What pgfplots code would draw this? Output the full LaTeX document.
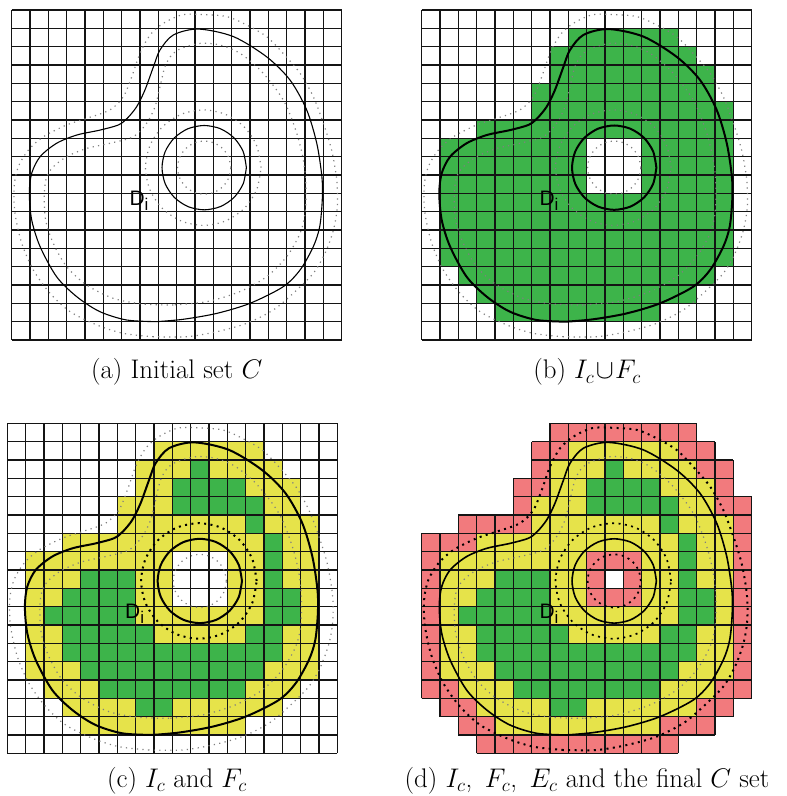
\RequirePackage{fix-cm}
\documentclass[border=0pt]{standalone}
\usepackage{fontspec}
\usepackage{pgfplots}
\usepackage{pgfplotstable}
\pgfplotsset{compat=1.18}
\newfontfamily\sansD{Liberation Sans}

\definecolor{cgreen}{RGB}{61,180,74}
\definecolor{cyellow}{RGB}{230,227,74}
\definecolor{cred}{RGB}{242,122,125}

% ---------- curves (grid units, 18x18 cells) ----------
\pgfplotstableread{
x y
7.9 1.0
6.27 1.09
4.8 1.55
3.55 2.36
2.45 3.45
1.55 5.09
1.09 6.55
0.96 8.0
1.09 9.09
1.55 10.0
2.45 10.73
3.55 11.18
4.82 11.45
5.82 11.73
6.3 12.09
6.82 12.73
7.27 13.64
7.73 14.9
8.09 15.82
8.82 16.64
10.18 16.96
12.09 16.55
13.9 15.45
15.18 14.18
16.09 12.55
16.64 10.73
16.92 8.9
16.94 7.64
16.8 6.18
16.45 5.09
15.73 3.82
14.8 2.9
13.0 2.0
11.18 1.45
9.36 1.13
7.9 1.0
}\solidouter

\pgfplotstableread{
x y
7.73 0.18
6.09 0.36
4.64 0.82
3.18 1.55
2.09 2.55
1.18 3.82
0.55 5.27
0.18 6.91
0.13 8.36
0.36 9.45
0.91 10.36
1.73 11.09
3.0 11.73
4.09 12.09
5.36 12.55
6.09 13.27
6.55 14.36
7.0 15.64
7.55 16.64
8.27 17.27
9.27 17.73
10.27 17.76
11.73 17.64
12.82 17.18
13.9 16.55
14.8 15.64
15.73 14.55
16.45 13.27
17.0 11.82
17.45 10.36
17.73 8.73
17.76 7.27
17.55 6.0
17.09 4.73
16.45 3.64
15.36 2.55
14.27 1.64
12.82 0.91
11.18 0.45
9.55 0.18
7.73 0.18
}\dotouter

\pgfplotstableread{
x y
8.82 1.91
7.18 1.96
5.55 2.27
4.09 3.0
3.0 4.0
2.27 5.27
1.85 6.55
1.78 8.0
1.91 8.91
2.27 9.45
3.0 10.0
4.09 10.45
5.36 10.73
6.64 11.09
7.36 11.82
7.82 12.73
8.09 13.82
8.36 14.91
8.73 15.55
9.27 15.91
10.27 16.18
11.36 16.09
12.45 15.64
13.55 14.73
14.45 13.64
15.0 12.73
15.55 11.27
15.91 9.82
16.05 8.36
16.0 6.91
15.73 5.82
15.0 4.55
13.9 3.45
12.45 2.64
10.64 2.09
8.82 1.91
}\dotinner

\pgfplotstableread{
x y
12.8 9.4
12.625 10.281
12.126 11.026
11.381 11.525
10.5 11.7
9.619 11.525
8.874 11.026
8.375 10.281
8.2 9.4
8.375 8.519
8.874 7.774
9.619 7.275
10.5 7.1
11.381 7.275
12.126 7.774
12.625 8.519
12.8 9.4
}\solidcircle

\pgfplotstableread{
x y
13.6 9.4
13.36 10.605
12.677 11.627
11.655 12.31
10.45 12.55
9.245 12.31
8.223 11.627
7.54 10.605
7.3 9.4
7.54 8.195
8.223 7.173
9.245 6.49
10.45 6.25
11.655 6.49
12.677 7.173
13.36 8.195
13.6 9.4
}\ringcircle

\pgfplotstableread{
x y
11.95 9.4
11.84 9.955
11.525 10.425
11.055 10.74
10.5 10.85
9.945 10.74
9.475 10.425
9.16 9.955
9.05 9.4
9.16 8.845
9.475 8.375
9.945 8.06
10.5 7.95
11.055 8.06
11.525 8.375
11.84 8.845
11.95 9.4
}\smallcircle

% ---------- cell runs ----------
\pgfplotstableread{
x y
8 16.5
14 16.5
nan nan
7 15.5
15 15.5
nan nan
7 14.5
16 14.5
nan nan
6 13.5
16 13.5
nan nan
6 12.5
17 12.5
nan nan
3 11.5
17 11.5
nan nan
1 10.5
9 10.5
nan nan
12 10.5
17 10.5
nan nan
1 9.5
9 9.5
nan nan
12 9.5
17 9.5
nan nan
1 8.5
9 8.5
nan nan
12 8.5
17 8.5
nan nan
1 7.5
17 7.5
nan nan
1 6.5
17 6.5
nan nan
1 5.5
17 5.5
nan nan
1 4.5
17 4.5
nan nan
2 3.5
16 3.5
nan nan
3 2.5
15 2.5
nan nan
4 1.5
13 1.5
}\runsS

\pgfplotstableread{
x y
10 15.5
11 15.5
nan nan
9 14.5
13 14.5
nan nan
9 13.5
14 13.5
nan nan
13 12.5
14 12.5
nan nan
14 11.5
15 11.5
nan nan
14 10.5
15 10.5
nan nan
4 9.5
7 9.5
nan nan
14 9.5
15 9.5
nan nan
3 8.5
7 8.5
nan nan
14 8.5
16 8.5
nan nan
2 7.5
7 7.5
nan nan
14 7.5
16 7.5
nan nan
3 6.5
8 6.5
nan nan
13 6.5
15 6.5
nan nan
3 5.5
15 5.5
nan nan
4 4.5
14 4.5
nan nan
5 3.5
13 3.5
nan nan
7 2.5
9 2.5
}\runsI

\pgfplotstableread{
x y
0.5 3
0.5 12
nan nan
17.5 3
17.5 14
nan nan
7 17.5
15 17.5
nan nan
6 16.5
8 16.5
nan nan
14 16.5
16 16.5
nan nan
6 15.5
7 15.5
nan nan
15 15.5
17 15.5
nan nan
5 14.5
7 14.5
nan nan
16 14.5
17 14.5
nan nan
5 13.5
6 13.5
nan nan
16 13.5
17 13.5
nan nan
2 12.5
6 12.5
nan nan
1 11.5
3 11.5
nan nan
9 10.5
12 10.5
nan nan
9 9.5
10 9.5
nan nan
11 9.5
12 9.5
nan nan
9 8.5
12 8.5
nan nan
1 3.5
2 3.5
nan nan
16 3.5
17 3.5
nan nan
1 2.5
3 2.5
nan nan
15 2.5
17 2.5
nan nan
2 1.5
4 1.5
nan nan
13 1.5
16 1.5
nan nan
3 0.5
14 0.5
}\runsE

% grid of panel (d): horizontal then vertical segments
\pgfplotstableread{
x y
7 18
15 18
nan nan
6 17
16 17
nan nan
6 16
17 16
nan nan
5 15
17 15
nan nan
5 14
18 14
nan nan
2 13
18 13
nan nan
0 12
18 12
nan nan
0 11
18 11
nan nan
0 10
18 10
nan nan
0 9
18 9
nan nan
0 8
18 8
nan nan
0 7
18 7
nan nan
0 6
18 6
nan nan
0 5
18 5
nan nan
0 4
18 4
nan nan
0 3
18 3
nan nan
1 2
17 2
nan nan
2 1
16 1
nan nan
3 0
14 0
nan nan
0 3
0 12
nan nan
1 2
1 12
nan nan
2 1
2 13
nan nan
3 0
3 13
nan nan
4 0
4 13
nan nan
5 0
5 15
nan nan
6 0
6 17
nan nan
7 0
7 18
nan nan
8 0
8 18
nan nan
9 0
9 18
nan nan
10 0
10 18
nan nan
11 0
11 18
nan nan
12 0
12 18
nan nan
13 0
13 18
nan nan
14 0
14 18
nan nan
15 1
15 18
nan nan
16 1
16 17
nan nan
17 2
17 16
nan nan
18 3
18 14
}\gridD

\pgfplotstableread{
x y
18 0
18 1
18 2
18 3
18 4
18 5
18 6
18 7
18 8
18 9
18 10
18 11
18 12
18 13
18 14
18 15
18 16
18 17
18 18
}\gridH

\pgfplotstableread{
x y
0 18
1 18
2 18
3 18
4 18
5 18
6 18
7 18
8 18
9 18
10 18
11 18
12 18
13 18
14 18
15 18
16 18
17 18
18 18
}\gridV

\pgfplotsset{
  panel/.style={hide axis, clip=false, scale only axis, width=330bp, height=330bp,
    xmin=0, xmax=18, ymin=0, ymax=18, anchor=south west, unbounded coords=jump},
  gridline/.style={black!92, line width=1.15bp},
  run/.style={line width=18.4bp, line cap=butt},
  thinsolid/.style={black, line width=1.1bp, smooth},
  thicksolid/.style={black, line width=2bp, smooth},
  graydot/.style={black!50, line width=1.2bp, dash pattern=on 1.2bp off 4.3bp, smooth},
  blackdot/.style={black, line width=2bp, dash pattern=on 2bp off 4.4bp, smooth},
}
\tikzset{capt/.style={anchor=base, inner sep=0pt, font=\fontsize{27}{32}\selectfont}}
\newcommand\Dlabel{\node[anchor=base west, inner sep=0pt, font=\sansD\fontsize{21}{21}\selectfont] at (axis cs:6.42,7.36) {D\raisebox{-5bp}{\fontsize{17}{17}\selectfont i}};}
\newcommand\fullgrid{%
  \addplot[gridline, xcomb] table {\gridH};
  \addplot[gridline, ycomb] table {\gridV};}

\begin{document}
\begin{tikzpicture}
\useasboundingbox (0,0) rectangle (787bp,796bp);

% (a)
\begin{axis}[panel, at={(11.7bp,456bp)}]
\fullgrid
\addplot[graydot] table {\dotouter};
\addplot[graydot] table {\dotinner};
\addplot[graydot] table {\ringcircle};
\addplot[graydot] table {\smallcircle};
\addplot[thinsolid] table {\solidouter};
\addplot[thinsolid] table {\solidcircle};
\Dlabel
\end{axis}

% (b)
\begin{axis}[panel, at={(421.7bp,456bp)}]
\addplot[run, cgreen] table {\runsS};
\fullgrid
\addplot[graydot] table {\dotouter};
\addplot[graydot] table {\dotinner};
\addplot[graydot] table {\ringcircle};
\addplot[graydot] table {\smallcircle};
\addplot[thicksolid] table {\solidouter};
\addplot[thicksolid] table {\solidcircle};
\Dlabel
\end{axis}

% (c)
\begin{axis}[panel, at={(7.3bp,42.7bp)}]
\addplot[run, cyellow] table {\runsS};
\addplot[run, cgreen] table {\runsI};
\fullgrid
\addplot[graydot] table {\dotouter};
\addplot[graydot] table {\dotinner};
\addplot[blackdot] table {\ringcircle};
\addplot[graydot] table {\smallcircle};
\addplot[thicksolid] table {\solidouter};
\addplot[thicksolid] table {\solidcircle};
\Dlabel
\end{axis}

% (d)
\begin{axis}[panel, at={(421.7bp,42.7bp)}]
\addplot[run, cyellow] table {\runsS};
\addplot[run, cgreen] table {\runsI};
\addplot[run, cred] table {\runsE};
\addplot[gridline] table {\gridD};
\addplot[blackdot] table {\dotouter};
\addplot[graydot] table {\dotinner};
\addplot[blackdot, line width=1.7bp] table {\ringcircle};
\addplot[blackdot, line width=1.7bp] table {\smallcircle};
\addplot[thicksolid, line width=1.6bp] table {\solidouter};
\addplot[thicksolid, line width=1.6bp] table {\solidcircle};
\Dlabel
\end{axis}

\node[capt] at (176.7bp,417bp) {(a) Initial set $C$};
\node[capt] at (587bp,417bp) {(b) $I_c\!\cup\! F_c$};
\node[capt] at (177bp,9bp) {(c) $I_c$ and $F_c$};
\node[capt] at (587bp,9bp) {(d) $I_c$,\, $F_c$,\, $E_c$ and the final $C$ set};
\end{tikzpicture}
\end{document}
